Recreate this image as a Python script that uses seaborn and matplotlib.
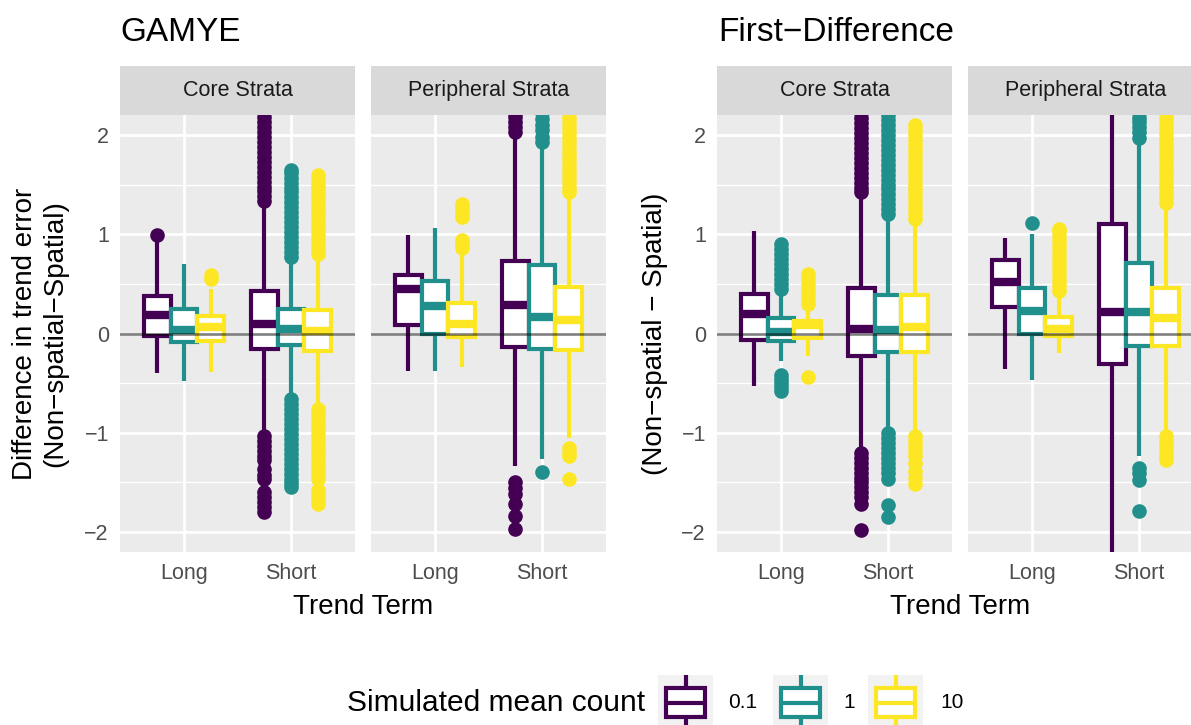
import matplotlib
matplotlib.use("Agg")
import matplotlib.pyplot as plt
from matplotlib.patches import Rectangle
from matplotlib.ticker import MultipleLocator
import seaborn as sns

W, H, DPI = 1191, 725, 100

# ---------------- data ----------------
methods = ["GAMYE", "First\u2212Difference"]
strata = ["Core Strata", "Peripheral Strata"]
terms = ["Long", "Short"]
counts = ["0.1", "1", "10"]
colors = ["#440154", "#21908C", "#FDE725"]

# one row per box: Long 0.1, Long 1, Long 10, Short 0.1, Short 1, Short 10
# columns: lower whisker, Q1, median, Q3, upper whisker
gamye_core = [
    [-0.40, -0.03, 0.19, 0.38, 0.93],
    [-0.48, -0.09, 0.04, 0.25, 0.70],
    [-0.39, -0.08, 0.07, 0.18, 0.45],
    [-0.99, -0.16, 0.10, 0.43, 1.30],
    [-0.62, -0.12, 0.05, 0.25, 0.74],
    [-0.70, -0.18, 0.03, 0.24, 0.74],
]
gamye_core_out = [
    [0.99],
    [],
    [0.55, 0.59],
    [1.33, 1.38, 1.43, 1.48, 1.53, 1.58, 1.63, 1.68, 1.73, 1.78, 1.83, 1.88,
     1.93, 1.98, 2.03, 2.08, 2.13, 2.18, 2.23, 2.28,
     -1.03, -1.08, -1.13, -1.18, -1.23, -1.27, -1.36, -1.42, -1.47,
     -1.60, -1.65, -1.70, -1.75, -1.80],
    [0.77, 0.82, 0.87, 0.92, 0.97, 1.02, 1.07, 1.12, 1.17, 1.22, 1.27, 1.32,
     1.37, 1.42, 1.47, 1.52, 1.57, 1.62, 1.65,
     -0.66, -0.71, -0.76, -0.81, -0.86, -0.91, -0.96, -1.01, -1.06, -1.11,
     -1.16, -1.21, -1.26, -1.31, -1.36, -1.41, -1.46, -1.51, -1.55],
    [0.80, 0.85, 0.90, 0.95, 1.00, 1.05, 1.10, 1.15, 1.20, 1.25, 1.30, 1.35,
     1.40, 1.45, 1.50, 1.55, 1.60,
     -0.76, -0.81, -0.86, -0.91, -0.96, -1.01, -1.06, -1.11, -1.16, -1.21,
     -1.26, -1.31, -1.36, -1.41, -1.46, -1.58, -1.63, -1.68, -1.72],
]

gamye_peri = [
    [-0.38, 0.09, 0.45, 0.59, 0.99],
    [-0.38, 0.00, 0.28, 0.53, 1.06],
    [-0.34, -0.04, 0.10, 0.31, 0.80],
    [-1.33, -0.14, 0.29, 0.73, 1.99],
    [-1.26, -0.16, 0.17, 0.69, 1.86],
    [-1.05, -0.17, 0.14, 0.47, 1.39],
]
gamye_peri_out = [
    [],
    [],
    [0.86, 0.90, 0.94, 1.17, 1.22, 1.26, 1.30],
    [2.03, 2.08, 2.13, 2.18, 2.22, 2.27,
     -1.50, -1.56, -1.62, -1.72, -1.84, -1.97],
    [1.93, 1.98, 2.05, 2.10, 2.16, 2.22, -1.39],
    [1.42, 1.47, 1.52, 1.57, 1.62, 1.67, 1.72, 1.77, 1.82, 1.87, 1.92, 1.97,
     2.02, 2.07, 2.12, 2.17, 2.22, 2.27,
     -1.15, -1.20, -1.23, -1.46],
]

fd_core = [
    [-0.53, -0.065, 0.20, 0.40, 1.03],
    [-0.28, -0.08, 0.02, 0.16, 0.42],
    [-0.23, -0.05, 0.09, 0.13, 0.27],
    [-1.17, -0.23, 0.05, 0.46, 1.39],
    [-0.96, -0.19, 0.04, 0.39, 1.17],
    [-1.00, -0.19, 0.07, 0.39, 1.12],
]
fd_core_out = [
    [],
    [0.45, 0.50, 0.55, 0.60, 0.65, 0.70, 0.75, 0.80, 0.85, 0.90,
     -0.42, -0.46, -0.50, -0.54, -0.58],
    [0.30, 0.35, 0.40, 0.45, 0.50, 0.55, 0.60, -0.44],
    [1.42, 1.47, 1.52, 1.57, 1.62, 1.67, 1.72, 1.77, 1.82, 1.87, 1.92, 1.97,
     2.02, 2.07, 2.12, 2.17, 2.22, 2.27,
     -1.20, -1.25, -1.30, -1.35, -1.40, -1.45, -1.50, -1.55, -1.60, -1.65,
     -1.72, -1.98],
    [1.20, 1.25, 1.30, 1.35, 1.40, 1.45, 1.50, 1.55, 1.60, 1.65, 1.70, 1.75,
     1.80, 1.85, 1.90, 1.95, 2.00, 2.05, 2.10, 2.15, 2.20, 2.25,
     -1.00, -1.05, -1.10, -1.15, -1.20, -1.25, -1.30, -1.35, -1.40, -1.47,
     -1.73, -1.85],
    [1.15, 1.20, 1.25, 1.30, 1.35, 1.40, 1.45, 1.50, 1.55, 1.60, 1.65, 1.70,
     1.75, 1.80, 1.85, 1.90, 1.95, 2.00, 2.05, 2.10,
     -1.03, -1.08, -1.13, -1.18, -1.23, -1.30, -1.38, -1.45, -1.52],
]

fd_peri = [
    [-0.36, 0.27, 0.52, 0.74, 0.96],
    [-0.47, 0.00, 0.23, 0.46, 1.00],
    [-0.20, -0.03, 0.05, 0.17, 0.40],
    [-2.60, -0.31, 0.22, 1.10, 2.60],
    [-1.23, -0.13, 0.22, 0.71, 1.90],
    [-0.99, -0.13, 0.16, 0.46, 1.28],
]
fd_peri_out = [
    [],
    [1.11],
    [0.43, 0.48, 0.53, 0.58, 0.63, 0.68, 0.73, 0.78, 0.83, 0.88, 0.93, 0.98,
     1.03, 1.05],
    [],
    [1.97, 2.03, 2.08, 2.13, 2.17, 2.22, -1.35, -1.40, -1.48, -1.79],
    [1.31, 1.36, 1.41, 1.46, 1.51, 1.56, 1.61, 1.66, 1.71, 1.76, 1.81, 1.86,
     1.91, 1.96, 2.01, 2.06, 2.11, 2.16, 2.21, 2.26,
     -1.03, -1.08, -1.13, -1.18, -1.23, -1.27],
]

panels = {
    (0, 0): (gamye_core, gamye_core_out),
    (0, 1): (gamye_peri, gamye_peri_out),
    (1, 0): (fd_core, fd_core_out),
    (1, 1): (fd_peri, fd_peri_out),
}

# ---------------- style ----------------
sns.set_theme(style="darkgrid")
plt.rcParams["font.family"] = ["Liberation Sans", "DejaVu Sans"]
plt.rcParams["axes.unicode_minus"] = True
plt.rcParams["text.color"] = "black"

fig = plt.figure(figsize=(W / DPI, H / DPI), dpi=DPI)
fig.patch.set_facecolor("white")

PANEL_BG = "#EBEBEB"
STRIP_BG = "#D9D9D9"
TICK_COL = "#4D4D4D"
LW = 3.0
PW = 235
TOP, BOT = 115, 552
STRIP_TOP = 66
lefts = {(0, 0): 120, (0, 1): 371, (1, 0): 717, (1, 1): 968}
offsets = [-0.25, 0.0, 0.25]

for (m, s), (stats_rows, outs) in panels.items():
    x0 = lefts[(m, s)]
    ax = fig.add_axes([x0 / W, 1 - BOT / H, PW / W, (BOT - TOP) / H])
    ax.set_facecolor(PANEL_BG)
    for sp in ax.spines.values():
        sp.set_visible(False)
    ax.set_ylim(-2.2, 2.2)
    ax.yaxis.set_major_locator(MultipleLocator(1))
    ax.yaxis.set_minor_locator(MultipleLocator(0.5))
    ax.grid(which="major", color="white", linewidth=2.0)
    ax.grid(which="minor", axis="y", color="white", linewidth=1.0)
    ax.set_axisbelow(True)

    for k, col in enumerate(colors):
        bstats = []
        for j in range(len(terms)):
            lo, q1, med, q3, hi = stats_rows[j * 3 + k]
            bstats.append(dict(whislo=lo, q1=q1, med=med, q3=q3, whishi=hi,
                               fliers=outs[j * 3 + k]))
        z = 3 + k
        ax.bxp(bstats, positions=[j + offsets[k] for j in range(len(terms))],
               widths=0.25, patch_artist=True, showcaps=False, showfliers=True,
               boxprops=dict(facecolor="white", edgecolor=col, linewidth=LW,
                             joinstyle="miter", zorder=z),
               whiskerprops=dict(color=col, linewidth=LW, solid_capstyle="butt",
                                 zorder=z - 0.5),
               medianprops=dict(color=col, linewidth=2 * LW, solid_capstyle="butt",
                                zorder=z + 0.1),
               flierprops=dict(marker="o", markerfacecolor=col, markeredgecolor=col,
                               markersize=9.5, linestyle="none", zorder=z - 0.6))
    ax.set_xlim(-0.6, 1.6)
    ax.set_xticks(range(len(terms)))
    ax.set_xticklabels(terms)
    ax.tick_params(axis="both", which="major", length=5, width=1.6,
                   color="#333333", labelcolor=TICK_COL, labelsize=15.5, pad=3)
    ax.tick_params(axis="both", which="minor", length=0)
    if s == 1:
        ax.tick_params(axis="y", labelleft=False, length=0)
    ax.axhline(0, color="black", alpha=0.5, linewidth=1.9, zorder=10)

    # facet strip
    sax = fig.add_axes([x0 / W, 1 - TOP / H, PW / W, (TOP - STRIP_TOP) / H])
    sax.set_facecolor(STRIP_BG)
    sax.set_xticks([]); sax.set_yticks([])
    for sp in sax.spines.values():
        sp.set_visible(False)
    sax.grid(False)
    sax.text(0.5, 0.5, strata[s], ha="center", va="center", fontsize=15.5,
             color="#1A1A1A", transform=sax.transAxes)

# titles
fig.text(120 / W, 1 - 41 / H, methods[0], fontsize=24, color="black", va="baseline")
fig.text(718 / W, 1 - 41 / H, methods[1], fontsize=24, color="black", va="baseline")

# axis titles
ymid = 1 - (TOP + BOT) / 2 / H
fig.text(40 / W, ymid, "Difference in trend error\n(Non\u2212spatial\u2212Spatial)",
         rotation=90, ha="center", va="center", multialignment="center",
         fontsize=20, linespacing=1.2, color="black")
fig.text(655 / W, ymid, "(Non\u2212spatial \u2212 Spatial)", rotation=90,
         ha="center", va="center", fontsize=20, color="black")
fig.text(363 / W, 1 - 607 / H, "Trend Term", ha="center", va="center",
         fontsize=20, color="black")
fig.text(960 / W, 1 - 607 / H, "Trend Term", ha="center", va="center",
         fontsize=20, color="black")

# legend
lax = fig.add_axes([0, 0, 1, 1], facecolor="none")
lax.set_xlim(0, W); lax.set_ylim(H, 0)
lax.axis("off")
lax.text(645, 703, "Simulated mean count", ha="right", va="center", fontsize=21.5,
         color="black")
key_x = [658, 773, 868]
lab_x = [728, 843, 940]
for kx, lx, col, lab in zip(key_x, lab_x, colors, counts):
    lax.add_patch(Rectangle((kx, 675), 55, 55, facecolor="#F2F2F2", edgecolor="none"))
    cx = kx + 27.5
    lax.plot([cx, cx], [675, 688], color=col, lw=LW, solid_capstyle="butt")
    lax.plot([cx, cx], [717, 730], color=col, lw=LW, solid_capstyle="butt")
    lax.add_patch(Rectangle((kx + 8, 688), 39, 29, facecolor="white", edgecolor=col,
                            lw=LW, joinstyle="miter"))
    lax.plot([kx + 8, kx + 47], [702.5, 702.5], color=col, lw=LW, solid_capstyle="butt")
    lax.text(lx, 703, lab, ha="left", va="center", fontsize=15, color="black")

fig.savefig("out.png", dpi=DPI, facecolor="white")
